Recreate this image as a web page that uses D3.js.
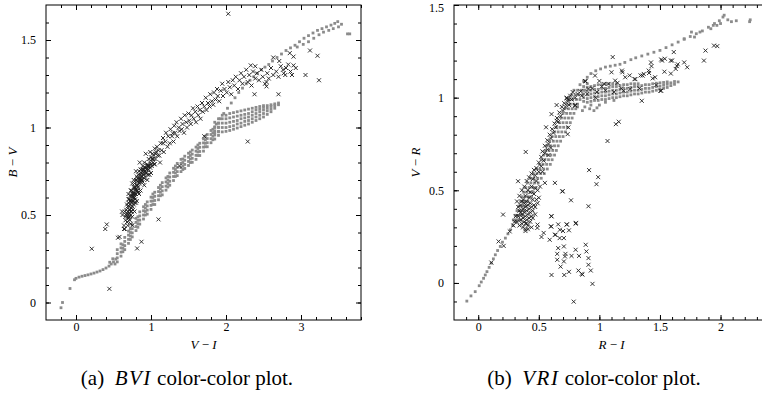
<!DOCTYPE html>
<html><head><meta charset="utf-8">
<script src="https://cdn.jsdelivr.net/npm/d3@7"></script>
<style>body{margin:0;background:#fff}svg{display:block}</style>
</head><body>
<svg id="c" width="762" height="397"></svg>
<script>
// ---------- (a) BVI data ----------
const bviXTicks = [0, 1, 2, 3];
const bviYTicks = [0, 0.5, 1, 1.5];
const bviModelTail = [[-0.2,-0.03],[-0.18,0.0],[-0.08,0.08],[-0.02,0.13],[0.0,0.138],[0.04,0.145],[0.08,0.15],[0.12,0.154],[0.16,0.158],[0.2,0.163],[0.24,0.168],[0.28,0.174],[0.32,0.18],[0.36,0.188],[0.4,0.197],[0.44,0.208],[0.47,0.22],[0.5,0.232],[0.53,0.248],[0.45,0.23],[0.49,0.25],[0.52,0.22]];
// rows: [V-I, [B-V values]]
const bviModelBand = [
 [0.55,[0.232,0.255,0.279,0.302]],[0.60,[0.265,0.288,0.312,0.335]],[0.65,[0.302,0.325,0.349,0.372]],
 [0.70,[0.338,0.361,0.385,0.408]],[0.75,[0.375,0.398,0.422,0.445]],[0.80,[0.411,0.434,0.458,0.481]],
 [0.85,[0.448,0.471,0.495,0.518]],[0.90,[0.477,0.500,0.524,0.547]],[0.95,[0.505,0.528,0.552,0.575]],
 [1.00,[0.532,0.555,0.579,0.602]],[1.05,[0.560,0.583,0.607,0.630]],[1.10,[0.587,0.610,0.634,0.657]],
 [1.15,[0.615,0.638,0.662,0.685]],[1.20,[0.642,0.665,0.689,0.712]],[1.25,[0.670,0.693,0.717,0.740]],
 [1.30,[0.697,0.720,0.744,0.767]],[1.35,[0.725,0.748,0.772,0.795]],[1.40,[0.748,0.771,0.795,0.818]],
 [1.45,[0.766,0.789,0.813,0.836]],[1.50,[0.783,0.806,0.830,0.853]],[1.55,[0.801,0.824,0.848,0.871]],
 [1.60,[0.818,0.841,0.865,0.888]],[1.65,[0.840,0.863,0.887,0.910]],[1.70,[0.865,0.888,0.912,0.935]],
 [1.75,[0.890,0.913,0.937,0.960]],[1.80,[0.913,0.936,0.960,0.983]],[1.85,[0.934,0.957,0.981,1.004]],
 [1.90,[0.955,0.978,1.002,1.025]],
 [0.625,[0.29,0.31,0.33]],[0.725,[0.36,0.38,0.40,0.42]],[0.825,[0.43,0.45,0.47,0.49]],[0.925,[0.50,0.52,0.54,0.56]],
 [1.025,[0.56,0.58,0.60,0.62]],[1.125,[0.61,0.63,0.65,0.67]],[1.225,[0.66,0.68,0.70,0.72]],[1.325,[0.72,0.74,0.76,0.78]],
 [1.425,[0.76,0.78,0.80,0.82]],[1.525,[0.80,0.82,0.84,0.86]],[1.625,[0.84,0.86,0.88,0.90]],[1.725,[0.89,0.91,0.93,0.95]],
 [1.825,[0.93,0.95,0.97,0.99]]];
const bviModelUpper = [[1.87,1.02],[1.92,1.05],[1.97,1.08],[2.02,1.11],[2.07,1.14],[2.12,1.17],[2.17,1.2],[2.22,1.225],[2.27,1.25],[2.32,1.27],[2.37,1.29],[2.42,1.31],[2.47,1.33],[2.52,1.345],[2.57,1.36],[2.62,1.38],[2.68,1.40],[2.74,1.42],[2.8,1.44],[2.86,1.455],[2.92,1.47],[2.98,1.49],[3.04,1.51],[3.1,1.525],[3.16,1.54],[3.22,1.555],[3.28,1.565],[3.34,1.575],[3.4,1.585],[3.45,1.595],[3.49,1.605],
 [2.95,1.46],[3.03,1.475],[3.1,1.49],[3.17,1.51],[3.24,1.53],[3.3,1.545],[3.37,1.555],[3.43,1.565],[3.5,1.575],[3.54,1.59],[3.62,1.535],[3.65,1.535]];
const bviModelFan = [
 [1.85,[0.97,1.0,1.03]],[1.90,[0.975,1.0,1.025,1.05]],[1.95,[0.975,1.0,1.025,1.05,1.07]],
 [2.00,[0.978,1.0,1.025,1.05,1.07]],[2.05,[0.983,1.005,1.03,1.055,1.08]],[2.10,[0.99,1.01,1.035,1.06,1.085]],
 [2.15,[0.997,1.02,1.04,1.065,1.09]],[2.20,[1.005,1.025,1.05,1.07,1.095]],[2.25,[1.013,1.035,1.055,1.075,1.10]],
 [2.30,[1.02,1.04,1.06,1.08,1.105]],[2.35,[1.03,1.05,1.07,1.09,1.11]],[2.40,[1.04,1.06,1.08,1.10,1.115]],
 [2.45,[1.05,1.07,1.09,1.105,1.12]],[2.50,[1.06,1.08,1.10,1.115,1.125]],[2.55,[1.075,1.095,1.11,1.125]],
 [2.60,[1.09,1.105,1.12,1.13]],[2.65,[1.11,1.125,1.135]],[2.70,[1.13,1.14]]];
const bviStars = [
 [0.66,0.47],[0.68,0.46],[0.7,0.48],[0.72,0.47],[0.67,0.5],[0.69,0.49],[0.71,0.51],[0.73,0.5],[0.75,0.49],
 [0.67,0.53],[0.69,0.55],[0.71,0.53],[0.72,0.56],[0.74,0.54],[0.76,0.53],[0.7,0.57],[0.73,0.52],[0.77,0.56],
 [0.71,0.59],[0.73,0.58],[0.74,0.61],[0.76,0.58],[0.77,0.6],[0.79,0.59],[0.72,0.61],[0.8,0.57],[0.75,0.6],
 [0.74,0.64],[0.76,0.63],[0.77,0.66],[0.79,0.62],[0.8,0.65],[0.82,0.64],[0.84,0.62],[0.78,0.65],[0.81,0.67],[0.83,0.66],
 [0.78,0.68],[0.8,0.7],[0.82,0.69],[0.84,0.71],[0.85,0.68],[0.87,0.7],[0.89,0.69],[0.83,0.73],[0.86,0.73],[0.91,0.71],
 [0.84,0.75],[0.87,0.74],[0.88,0.76],[0.9,0.73],[0.92,0.75],[0.94,0.74],[0.96,0.76],[0.89,0.78],[0.93,0.77],[0.98,0.73],
 [0.91,0.8],[0.95,0.79],[0.97,0.78],[0.99,0.8],[1.01,0.78],[1.03,0.8],[0.97,0.82],[1.0,0.83],[1.05,0.79],[1.06,0.82],
 [1.02,0.85],[1.04,0.84],[1.07,0.86],[1.09,0.84],[1.05,0.88],[1.08,0.89],[1.1,0.87],[0.99,0.86],
 [0.62,0.5],[0.64,0.44],[0.65,0.52],[0.69,0.44],[0.78,0.52],[0.81,0.58],[0.86,0.64],[0.91,0.67],[0.95,0.7],[1.0,0.74],[0.7,0.62],[0.75,0.68],[0.8,0.75],[0.85,0.8],[0.93,0.85],[1.12,0.8],[0.73,0.45],[0.76,0.62],[0.79,0.66],[0.84,0.69],[0.87,0.72],[0.9,0.76],[0.95,0.78],[1.0,0.79],[0.74,0.57],[0.71,0.55],[0.69,0.52],[0.77,0.62],[0.82,0.67],[0.86,0.71],[0.93,0.74],[0.97,0.76],[1.02,0.82],
 [0.68,0.51],[0.7,0.5],[0.72,0.53],[0.74,0.52],[0.72,0.58],[0.75,0.55],[0.75,0.58],[0.78,0.6],[0.78,0.57],[0.76,0.61],[0.8,0.62],[0.81,0.64],[0.79,0.64],[0.83,0.63],[0.82,0.71],[0.85,0.7],[0.86,0.69],[0.88,0.72],[0.88,0.7],[0.9,0.74],[0.91,0.77],[0.92,0.72],[0.94,0.76],[0.96,0.78],[0.96,0.73],[0.98,0.78],[0.99,0.77],[1.01,0.82],[1.03,0.82],[1.04,0.79],[1.06,0.85],[0.86,0.76],[0.89,0.75],[0.81,0.72],[0.77,0.7],[0.73,0.64],[0.7,0.59],[0.68,0.56],[0.66,0.49],[0.71,0.49],
 [1.11,0.84],[1.13,0.91],[1.14,0.87],[1.16,0.94],[1.17,0.86],[1.19,0.92],[1.2,0.97],[1.22,0.89],[1.23,0.95],[1.25,0.91],[1.26,0.99],[1.28,0.95],[1.3,0.92],[1.31,1.01],[1.32,0.97],[1.34,1.03],[1.35,0.95],[1.37,1.0],[1.38,0.98],[1.4,1.05],[1.41,0.99],[1.42,1.02],[1.44,0.97],[1.45,1.07],[1.47,1.03],[1.48,1.0],[1.5,1.08],[1.51,1.04],[1.53,1.02],[1.54,1.07],[1.56,1.11],[1.57,1.05],[1.59,1.09],[1.6,1.03],[1.62,1.12],[1.63,1.07],[1.65,1.1],[1.66,1.05],[1.68,1.14],[1.69,1.09],[1.71,1.12],[1.73,1.17],[1.74,1.1],[1.76,1.14],[1.78,1.12],[1.79,1.19],[1.81,1.15],[1.83,1.13],[1.84,1.2],[1.86,1.16],[1.88,1.22],[1.89,1.18],[1.91,1.15],[1.93,1.21],[1.95,1.25],[1.96,1.18],[1.98,1.22],[2.01,1.2],[2.03,1.26],[2.05,1.23],[2.07,1.19],[2.09,1.27],[2.11,1.24],[2.13,1.29],[2.16,1.22],[2.18,1.27],[2.2,1.31],[2.22,1.25],[2.24,1.29],[2.27,1.33],[2.29,1.26],[2.31,1.3],[2.34,1.24],[2.36,1.32],[2.39,1.28],[2.41,1.31],[2.44,1.27],[2.47,1.33],[2.49,1.29],[2.52,1.25],[2.55,1.31],[2.57,1.28],[2.6,1.34],[2.63,1.3],[2.67,1.32],[2.7,1.29],[2.73,1.35],[2.77,1.31],[2.8,1.34],[2.86,1.32],[2.93,1.34],
 [2.33,1.355],[2.39,1.35],[2.54,1.26],[2.54,1.235],[2.38,1.19],[2.70,1.19],[3.06,1.3],[3.24,1.27],[3.12,1.44],[3.22,1.41],[2.29,0.92],[2.03,1.65],[2.63,1.4],[2.71,1.38],[2.85,1.425],[2.9,1.405],[2.83,1.36],[2.9,1.355],[2.76,1.33],[2.79,1.3],[2.88,1.3],[1.71,0.95],[1.38,0.78],[1.29,0.967],[1.16,0.91],
 [0.21,0.307],[0.445,0.078],[0.41,0.446],[0.39,0.42],[0.58,0.375],[0.56,0.37],[0.65,0.42],[0.815,0.309],[0.873,0.347],[1.10,0.475],[0.75,0.44],[0.615,0.52],[0.64,0.42]];

// ---------- (b) VRI data ----------
const vriXTicks = [0, 0.5, 1, 1.5, 2];
const vriYTicks = [0, 0.5, 1, 1.5];
const vriModelTail = [[-0.094,-0.098],[-0.06,-0.07],[-0.025,-0.047],[0.008,-0.015],[0.025,0.005],[0.044,0.025],[0.058,0.043],[0.072,0.061],[0.09,0.084],[0.108,0.107],[0.125,0.13],[0.141,0.152],[0.16,0.175],[0.182,0.197],[0.2,0.22],[0.224,0.242],[0.245,0.265],[0.265,0.287],[0.285,0.31],[0.307,0.332]];
// rows: [V-R, [R-I values]]
const vriModelBand = [
 [0.34,[0.29,0.31,0.33,0.35]],[0.365,[0.305,0.325,0.345,0.365]],[0.39,[0.32,0.34,0.36,0.38]],
 [0.415,[0.335,0.355,0.375,0.395]],[0.44,[0.35,0.37,0.39,0.41]],[0.465,[0.36,0.385,0.415,0.44]],
 [0.49,[0.375,0.40,0.43,0.455]],[0.515,[0.39,0.42,0.45,0.475]],[0.54,[0.405,0.435,0.465,0.495]],
 [0.565,[0.43,0.46,0.49,0.52]],[0.59,[0.455,0.485,0.515,0.545]],[0.615,[0.48,0.51,0.54,0.57]],
 [0.64,[0.505,0.535,0.565,0.595]],[0.665,[0.52,0.55,0.58,0.61]],[0.69,[0.54,0.57,0.60,0.63]],
 [0.715,[0.555,0.585,0.615,0.645]],[0.74,[0.57,0.60,0.63,0.66]],[0.765,[0.59,0.62,0.65,0.68]],
 [0.79,[0.61,0.64,0.67,0.70]],[0.815,[0.63,0.66,0.69,0.72]],[0.84,[0.645,0.675,0.705,0.735]],
 [0.865,[0.67,0.70,0.73,0.76]],[0.89,[0.685,0.715,0.745,0.775]],[0.915,[0.70,0.73,0.76,0.79]],
 [0.94,[0.715,0.745,0.775,0.805]],[0.965,[0.73,0.76,0.79,0.82]],[0.99,[0.75,0.78,0.81,0.84]],
 [1.015,[0.77,0.80,0.83,0.86]],[1.04,[0.79,0.82,0.85,0.88]]];
const vriModelUpper = [[0.84,1.07],[0.87,1.09],[0.9,1.11],[0.93,1.13],[0.97,1.145],[1.01,1.155],[1.05,1.165],[1.09,1.17],[1.13,1.175],[1.17,1.18],[1.21,1.19],[1.26,1.205],[1.3,1.215],[1.35,1.225],[1.4,1.235],[1.45,1.245],[1.5,1.255],[1.55,1.27],[1.6,1.285],[1.65,1.3],[1.7,1.315],[1.75,1.33],[1.8,1.345],[1.85,1.36],[1.9,1.38],[1.95,1.4],[1.99,1.415],[2.02,1.435],[2.03,1.445],[2.06,1.42],[2.09,1.41],[2.13,1.415],[2.24,1.41],[2.245,1.42],
 [1.7,1.318],[1.785,1.327],[1.76,1.354],[1.83,1.354],[1.92,1.372],[1.94,1.39],[1.97,1.39],[2.0,1.4]];
const vriModelFan = [
 [0.87,[0.98,1.0,1.02,1.04,1.06]],[0.90,[0.975,0.995,1.015,1.035,1.055,1.075]],[0.93,[0.98,1.0,1.02,1.04,1.06]],
 [0.96,[0.985,1.005,1.025,1.045,1.065]],[0.99,[0.985,1.005,1.025,1.045,1.07]],[1.02,[0.99,1.01,1.03,1.05,1.07]],
 [1.05,[0.99,1.01,1.03,1.05,1.075]],[1.08,[0.995,1.015,1.035,1.055,1.075]],[1.11,[1.0,1.02,1.04,1.06,1.075]],
 [1.14,[1.0,1.02,1.04,1.06,1.075]],[1.17,[1.005,1.025,1.045,1.065]],[1.20,[1.01,1.03,1.05,1.07]],
 [1.23,[1.01,1.03,1.05,1.07]],[1.26,[1.015,1.035,1.055,1.075]],[1.29,[1.02,1.04,1.06,1.075]],
 [1.32,[1.02,1.04,1.06,1.075]],[1.35,[1.025,1.045,1.065]],[1.38,[1.03,1.05,1.07]],[1.41,[1.03,1.05,1.07]],
 [1.44,[1.035,1.055,1.075]],[1.47,[1.04,1.06,1.078]],[1.50,[1.045,1.062,1.08]],[1.53,[1.05,1.067,1.082]],
 [1.56,[1.055,1.072,1.085]],[1.59,[1.065,1.08]],[1.62,[1.072,1.087]],[1.65,[1.085]]];
const vriModelSparse = [[0.88,0.95],[0.92,0.94],[0.955,0.93],[0.93,0.96],[1.0,0.96],[0.98,0.945],[1.05,0.975],[1.12,0.985],[0.86,0.93],[0.82,0.95]];
const vriStars = [
 [0.32,0.33],[0.33,0.36],[0.34,0.31],[0.34,0.39],[0.35,0.34],[0.35,0.42],[0.36,0.37],[0.36,0.32],[0.37,0.4],[0.37,0.45],[0.37,0.35],[0.38,0.38],[0.38,0.43],[0.38,0.33],[0.39,0.36],[0.39,0.41],[0.39,0.47],[0.4,0.39],[0.4,0.34],[0.4,0.44],[0.41,0.37],[0.41,0.42],[0.41,0.5],[0.42,0.35],[0.42,0.4],[0.42,0.46],[0.43,0.38],[0.43,0.43],[0.43,0.49],[0.44,0.36],[0.44,0.41],[0.44,0.52],[0.45,0.45],[0.45,0.39],[0.46,0.48],[0.46,0.42],[0.47,0.51],[0.47,0.37],[0.48,0.45],[0.48,0.55],[0.49,0.5],[0.36,0.44],[0.35,0.38],[0.33,0.41],[0.31,0.36],[0.3,0.33],[0.29,0.31],[0.32,0.44],[0.34,0.47],[0.36,0.5],[0.38,0.52],[0.4,0.55],[0.42,0.57],[0.44,0.59],[0.46,0.61],[0.37,0.3],[0.39,0.32],[0.41,0.31],[0.43,0.33],[0.45,0.35],[0.47,0.41],[0.49,0.43],[0.5,0.46],[0.51,0.52],[0.39,0.28],[0.41,0.29],[0.44,0.3],
 [0.45,0.56],[0.47,0.58],[0.48,0.62],[0.5,0.6],[0.5,0.65],[0.52,0.63],[0.52,0.68],[0.53,0.71],[0.54,0.66],[0.55,0.7],[0.55,0.74],[0.57,0.72],[0.57,0.77],[0.58,0.75],[0.59,0.8],[0.6,0.78],[0.61,0.83],[0.62,0.81],[0.63,0.86],[0.64,0.84],[0.65,0.89],[0.66,0.87],[0.67,0.92],[0.68,0.9],[0.69,0.95],[0.7,0.93],[0.71,0.97],[0.72,0.95],[0.73,1.0],[0.74,0.98],[0.75,0.96],[0.76,1.01],[0.77,0.99],[0.78,1.03],[0.8,1.0],[0.8,0.96],[0.82,1.02],[0.605,0.911],[0.647,0.96],[0.73,0.996],[0.647,0.875],[0.744,0.839],[0.738,0.803],[0.392,0.707],[0.329,0.549],[0.55,0.54],[0.633,0.54],[0.697,0.495],[0.744,0.992],[0.8,0.956],[0.56,0.84],[0.58,0.69],[0.53,0.6],[0.6,0.73],
 [0.88,1.09],[0.964,1.119],[1.1,1.137],[1.13,1.092],[1.186,1.146],[1.213,1.11],[1.297,1.1],[1.366,1.128],[1.407,1.146],[1.46,1.11],[1.517,1.2],[1.54,1.21],[1.614,1.246],[1.6,1.2],[1.63,1.155],[1.64,1.17],[1.7,1.19],[1.725,1.164],[1.876,1.254],[1.863,1.2],[1.946,1.281],[1.973,1.278],[1.503,1.037],[1.35,0.983],[1.255,1.047],[1.2,1.037],[1.075,1.074],[0.91,1.047],[0.854,1.01],[1.426,1.19],[1.43,1.17],[1.51,1.206],[1.59,1.2],[1.647,1.18],[1.537,1.14],[1.59,1.13],[1.41,1.133],[1.44,1.104],[1.357,1.119],[1.29,1.10],[1.33,1.05],[1.47,1.068],[1.51,1.037],[1.11,1.219],[0.94,1.05],[0.98,1.03],[1.02,1.06],[1.05,1.04],[0.9,1.02],[0.97,1.0],[1.15,1.08],[1.25,1.12],[1.0,1.09],[1.19,1.137],[1.34,1.12],[1.136,0.857],[1.16,0.87],[1.067,0.766],[0.887,1.088],[0.846,1.034],[1.04,1.074],[1.12,1.03],[1.18,1.05],
 [0.915,0.609],[0.99,0.571],[0.976,0.533],[0.694,0.494],[0.766,0.446],[0.91,0.414],[0.605,0.36],[0.804,0.32],[0.732,0.315],[0.6,0.305],[0.674,0.287],[0.7,0.28],[0.749,0.284],[0.54,0.27],[0.638,0.26],[0.672,0.242],[0.707,0.242],[0.59,0.233],[0.522,0.248],[0.489,0.315],[0.488,0.297],[0.40,0.32],[0.39,0.29],[0.205,0.369],[0.168,0.224],[0.21,0.2],[0.26,0.278],[0.108,0.11],[0.605,0.043],[0.66,0.188],[0.707,0.197],[0.652,0.157],[0.72,0.157],[0.716,0.143],[0.77,0.146],[0.652,0.125],[0.707,0.116],[0.68,0.088],[0.804,0.179],[0.832,0.146],[0.887,0.206],[0.893,0.17],[0.91,0.134],[0.91,0.098],[0.929,0.067],[0.827,0.067],[0.854,0.049],[0.86,0.045],[0.749,0.06],[0.71,0.043],[0.943,-0.005],[0.788,-0.101],[0.603,0.36],[0.603,0.305],[0.66,0.316],[0.73,0.316],[0.807,0.324],[0.633,0.26]];

// ---------- drawing ----------
const svg = d3.select('#c');
const rows = (r, swap) => r.flatMap(([a, list]) => list.map(b => swap ? [b, a] : [a, b]));
const FONT = '"Liberation Serif"';

function panel(cfg) {
  const g = svg.append('g');
  const x = d3.scaleLinear().domain(cfg.xDom).range([cfg.left, cfg.left + cfg.w]);
  const y = d3.scaleLinear().domain(cfg.yDom).range([cfg.top + cfg.h, cfg.top]);
  const bottom = cfg.top + cfg.h, right = cfg.left + cfg.w;
  svg.append('clipPath').attr('id', 'clip' + cfg.id).append('rect')
    .attr('x', cfg.left).attr('y', cfg.top).attr('width', cfg.w).attr('height', cfg.h);
  const pts = g.append('g').attr('clip-path', `url(#clip${cfg.id})`);
  pts.append('g').selectAll('rect').data(cfg.model).join('rect')
    .attr('x', d => x(d[0]) - 1.4).attr('y', d => y(d[1]) - 1.4)
    .attr('width', 2.8).attr('height', 2.8).attr('fill', '#8b8b8b');
  pts.append('g').selectAll('path').data(cfg.stars).join('path')
    .attr('transform', d => `translate(${x(d[0])},${y(d[1])})`)
    .attr('d', 'M-2,-2L2,2M-2,2L2,-2').attr('stroke', '#1e1e1e').attr('stroke-width', 0.9).attr('fill', 'none');

  const ax = g.append('g');
  const fmt = d => String(d);
  const minorX = d3.range(cfg.xDom[0], cfg.xDom[1] + 1e-9, cfg.xMinorStep).filter(v => v > cfg.xDom[0] + 1e-6);
  const minorY = d3.range(cfg.yDom[0], cfg.yDom[1] + 1e-9, 0.1).filter(v => v > cfg.yDom[0] + 1e-6 && v < cfg.yDom[1] - 1e-6);
  const styleAxis = s => {
    s.attr('font-family', null).attr('font-size', null);
    s.select('.domain').remove();
    s.selectAll('line').attr('stroke', '#000');
    s.selectAll('text').style('font-family', FONT).style('font-size', '12px').attr('fill', '#000');
  };
  ax.append('g').attr('transform', `translate(0,${bottom})`).call(d3.axisBottom(x).tickValues(minorX).tickSize(-3).tickFormat('')).call(styleAxis);
  ax.append('g').attr('transform', `translate(0,${bottom})`).call(d3.axisBottom(x).tickValues(cfg.xTicks).tickSize(-5).tickPadding(2).tickFormat(fmt)).call(styleAxis);
  ax.append('g').attr('transform', `translate(0,${cfg.top})`).call(d3.axisTop(x).tickValues(minorX).tickSize(-3).tickFormat('')).call(styleAxis);
  ax.append('g').attr('transform', `translate(0,${cfg.top})`).call(d3.axisTop(x).tickValues(cfg.xTicks).tickSize(-5).tickFormat('')).call(styleAxis);
  ax.append('g').attr('transform', `translate(${cfg.left},0)`).call(d3.axisLeft(y).tickValues(minorY).tickSize(-3).tickFormat('')).call(styleAxis);
  const yl = ax.append('g').attr('transform', `translate(${cfg.left},0)`).call(d3.axisLeft(y).tickValues(cfg.yTicks).tickSize(-5).tickPadding(10).tickFormat(fmt)).call(styleAxis);
  yl.selectAll('text').filter(d => y(d) < cfg.top + 4).attr('dy', '0.5em');
  ax.append('g').attr('transform', `translate(${right},0)`).call(d3.axisRight(y).tickValues(minorY).tickSize(-3).tickFormat('')).call(styleAxis);
  ax.append('g').attr('transform', `translate(${right},0)`).call(d3.axisRight(y).tickValues(cfg.yTicks).tickSize(-5).tickFormat('')).call(styleAxis);
  g.append('rect').attr('x', cfg.left).attr('y', cfg.top).attr('width', cfg.w).attr('height', cfg.h)
    .attr('fill', 'none').attr('stroke', '#000').attr('stroke-width', 1);

  // axis titles
  const xt = g.append('text').attr('x', cfg.left + cfg.w / 2).attr('y', 349).attr('text-anchor', 'middle')
    .style('font-family', FONT).style('font-size', '13px');
  xt.append('tspan').style('font-style', 'italic').text(cfg.xLab[0]);
  xt.append('tspan').text(' − ');
  xt.append('tspan').style('font-style', 'italic').text(cfg.xLab[1]);
  const yt = g.append('text').attr('transform', `translate(${cfg.yLabX},${cfg.top + cfg.h / 2}) rotate(-90)`)
    .attr('text-anchor', 'middle').style('font-family', FONT).style('font-size', '13px');
  yt.append('tspan').style('font-style', 'italic').text(cfg.yLab[0]);
  yt.append('tspan').text(' − ');
  yt.append('tspan').style('font-style', 'italic').text(cfg.yLab[1]);

  // caption
  const cap = g.append('text').attr('x', cfg.capX).attr('y', 384.5).attr('text-anchor', 'middle')
    .style('font-family', FONT).style('font-size', '21px');
  cap.append('tspan').text(cfg.cap[0] + '\u00a0\u00a0');
  cap.append('tspan').style('font-style', 'italic').attr('letter-spacing', 1.5).text(cfg.cap[1]);
  cap.append('tspan').text(cfg.cap[2]);
}

panel({id: 'a', left: 46, top: 5, w: 315, h: 315, xDom: [-0.4, 3.8], yDom: [-0.1, 1.7], xMinorStep: 0.2,
  xTicks: bviXTicks, yTicks: bviYTicks,
  model: bviModelTail.concat(rows(bviModelBand), bviModelUpper, rows(bviModelFan)),
  stars: bviStars, xLab: ['V', 'I'], yLab: ['B', 'V'], yLabX: 17, capX: 187,
  cap: ['(a)', 'BVI', ' color-color plot.']});
panel({id: 'b', left: 454, top: 5, w: 315, h: 315, xDom: [-0.2, 2.4], yDom: [-0.2, 1.5], xMinorStep: 0.1,
  xTicks: vriXTicks, yTicks: vriYTicks,
  model: vriModelTail.concat(rows(vriModelBand, true), vriModelUpper, rows(vriModelFan), vriModelSparse),
  stars: vriStars, xLab: ['R', 'I'], yLab: ['V', 'R'], yLabX: 420, capX: 594,
  cap: ['(b)', 'VRI', ' color-color plot.']});
</script>
</body></html>
